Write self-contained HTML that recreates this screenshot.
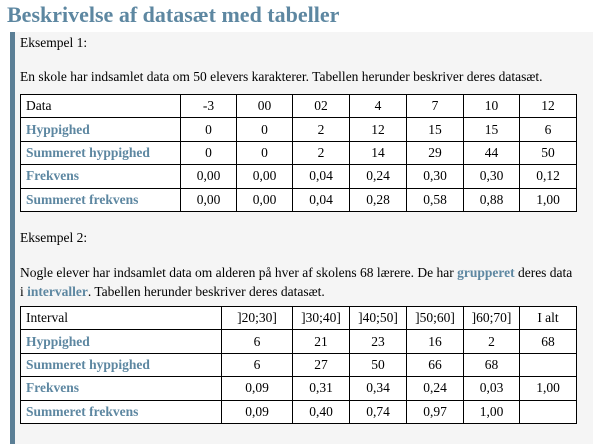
<!DOCTYPE html>
<html><head><meta charset="utf-8"><style>
body{margin:0;width:600px;height:444px;background:#fff;font-family:"Liberation Serif",serif;color:#000;overflow:hidden;position:relative}
.title{position:absolute;left:7px;top:2px;font-size:22px;font-weight:bold;color:#5d87a1;white-space:nowrap}
.panel{position:absolute;left:10px;top:32px;width:583px;height:412px;background:#f5f5f5;border-left:5px solid #5b7f96;box-sizing:border-box}
.t{position:absolute;font-size:13.5px;white-space:nowrap}
table{position:absolute;border-collapse:collapse;background:#fff;font-size:13.5px;table-layout:fixed}
tr{height:23.4px}
td{border:1.5px solid #000;padding:0 5px;text-align:center;line-height:20px}
td.l{text-align:left;color:#5d87a1;font-weight:bold}
td.h{text-align:left}
.b{color:#5d87a1;font-weight:bold}
</style></head><body>
<div class="title">Beskrivelse af datasæt med tabeller</div>
<div class="panel"></div>
<div class="t" style="left:20px;top:35px">Eksempel 1:</div>
<div class="t" style="left:20px;top:69px">En skole har indsamlet data om 50 elevers karakterer. Tabellen herunder beskriver deres datasæt.</div>
<table style="left:20px;top:94px;width:556px">
<colgroup><col style="width:160px"><col style="width:56px"><col style="width:56px"><col style="width:57px"><col style="width:57px"><col style="width:57px"><col style="width:56px"><col style="width:57px"></colgroup>
<tr><td class="h">Data</td><td>-3</td><td>00</td><td>02</td><td>4</td><td>7</td><td>10</td><td>12</td></tr>
<tr><td class="l">Hyppighed</td><td>0</td><td>0</td><td>2</td><td>12</td><td>15</td><td>15</td><td>6</td></tr>
<tr><td class="l">Summeret hyppighed</td><td>0</td><td>0</td><td>2</td><td>14</td><td>29</td><td>44</td><td>50</td></tr>
<tr><td class="l">Frekvens</td><td>0,00</td><td>0,00</td><td>0,04</td><td>0,24</td><td>0,30</td><td>0,30</td><td>0,12</td></tr>
<tr><td class="l">Summeret frekvens</td><td>0,00</td><td>0,00</td><td>0,04</td><td>0,28</td><td>0,58</td><td>0,88</td><td>1,00</td></tr>
</table>
<div class="t" style="left:20px;top:230px">Eksempel 2:</div>
<div class="t" style="left:20px;top:263px;line-height:19px">Nogle elever har indsamlet data om alderen på hver af skolens 68 lærere. De har <span class="b">grupperet</span> deres data<br>i <span class="b">intervaller</span>. Tabellen herunder beskriver deres datasæt.</div>
<table style="left:20px;top:306px;width:556px">
<colgroup><col style="width:201px"><col style="width:71px"><col style="width:57px"><col style="width:57px"><col style="width:57px"><col style="width:56px"><col style="width:57px"></colgroup>
<tr><td class="h">Interval</td><td>]20;30]</td><td>]30;40]</td><td>]40;50]</td><td>]50;60]</td><td>]60;70]</td><td>I alt</td></tr>
<tr><td class="l">Hyppighed</td><td>6</td><td>21</td><td>23</td><td>16</td><td>2</td><td>68</td></tr>
<tr><td class="l">Summeret hyppighed</td><td>6</td><td>27</td><td>50</td><td>66</td><td>68</td><td></td></tr>
<tr><td class="l">Frekvens</td><td>0,09</td><td>0,31</td><td>0,34</td><td>0,24</td><td>0,03</td><td>1,00</td></tr>
<tr><td class="l">Summeret frekvens</td><td>0,09</td><td>0,40</td><td>0,74</td><td>0,97</td><td>1,00</td><td></td></tr>
</table>
</body></html>
